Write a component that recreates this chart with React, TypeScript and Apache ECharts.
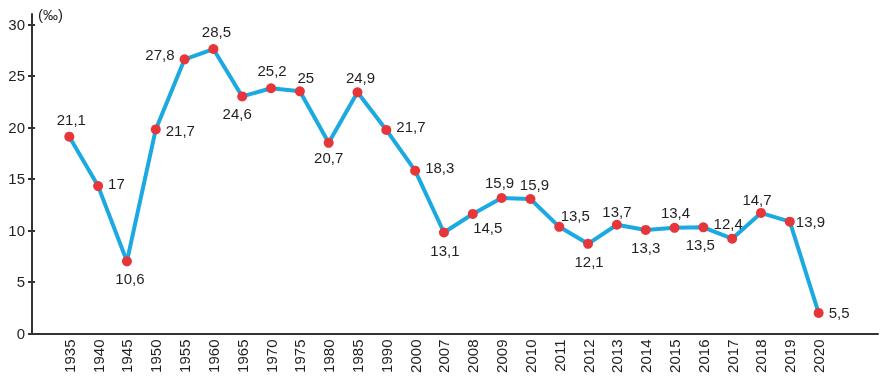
import React, { useEffect, useRef } from "react";
import * as echarts from "echarts";

const years = [
  "1935", "1940", "1945", "1950", "1955", "1960", "1965", "1970", "1975", "1980",
  "1985", "1990", "2000", "2007", "2008", "2009", "2010", "2011", "2012", "2013",
  "2014", "2015", "2016", "2017", "2018", "2019", "2020",
];

// plotted positions (‰)
const plotted = [
  19.1, 14.3, 7.0, 19.8, 26.6, 27.6, 23.0, 23.8, 23.5, 18.5,
  23.4, 19.75, 15.8, 9.8, 11.6, 13.15, 13.05, 10.35, 8.7, 10.55,
  10.05, 10.25, 10.3, 9.2, 11.7, 10.85, 2.0,
];

// printed value labels
const valueLabels = [
  "21,1", "17", "10,6", "21,7", "27,8", "28,5", "24,6", "25,2", "25", "20,7",
  "24,9", "21,7", "18,3", "13,1", "14,5", "15,9", "15,9", "13,5", "12,1", "13,7",
  "13,3", "13,4", "13,5", "12,4", "14,7", "13,9", "5,5",
];

const yTicks = [0, 5, 10, 15, 20, 25, 30];

// label placement (layout only)
const placement: [string, number, number][] = [
  ["top", 2, 0], ["right", 0, -3], ["bottom", 3, 0], ["right", 0, 1], ["left", 0, -5],
  ["top", 3, 0], ["bottom", -5, 0], ["top", 1, 0], ["top", 6, 4], ["bottom", 0, -3],
  ["top", 3, 3], ["right", 0, -3], ["right", 0, -3], ["bottom", 1, 1], ["bottom", 15, -4],
  ["top", -2, 2], ["top", 4, 3], ["top", 16, 6], ["bottom", 1, 0], ["top", 0, 4],
  ["bottom", 0, 0], ["top", 1, 2], ["bottom", -3, 0], ["top", -4, 2], ["top", -4, 4],
  ["right", -4, 0], ["right", 0, 0],
];

const FONT = "'Liberation Sans', Arial, Helvetica, sans-serif";
const TEXT = "#231f20";

export default function App() {
  const ref = useRef<HTMLDivElement>(null);

  useEffect(() => {
    if (!ref.current) return;
    const chart = echarts.init(ref.current, undefined, { renderer: "svg" });
    const data = plotted.map((v, i) => ({
      value: [i, v],
      label: {
        position: placement[i][0],
        offset: [placement[i][1], placement[i][2]],
      },
    }));
    chart.setOption({
      animation: false,
      textStyle: { fontFamily: FONT },
      grid: { left: 32, right: 5, top: 14, bottom: 52.5, containLabel: false },
      xAxis: {
        type: "value",
        min: -1.294,
        max: 28.06,
        splitLine: { show: false },
        axisTick: { show: false },
        axisLine: { onZero: false, lineStyle: { color: "#333333", width: 2 } },
        axisLabel: {
          customValues: years.map((_, i) => i),
          formatter: (v: number) => years[Math.round(v)] ?? "",
          rotate: 90,
          margin: 6,
          padding: [10, 0, 0, 0],
          color: TEXT,
          fontSize: 15,
          fontFamily: FONT,
        },
      },
      yAxis: [
        {
          type: "value",
          min: 0,
          max: 31,
          name: "(‰)",
          nameLocation: "end",
          nameGap: 0,
          nameTextStyle: {
            color: TEXT,
            fontSize: 15,
            fontFamily: FONT,
            align: "left",
            verticalAlign: "middle",
            padding: [0, 0, 0, 6],
          },
          splitLine: { show: false },
          axisLine: { onZero: false, lineStyle: { color: "#333333", width: 2 } },
          axisTick: {
            customValues: yTicks,
            length: 4,
            lineStyle: { color: "#333333", width: 2 },
          },
          axisLabel: {
            customValues: yTicks,
            margin: 7,
            color: TEXT,
            fontSize: 15,
            fontFamily: FONT,
          },
        },
        {
          type: "value",
          min: 0,
          max: 31,
          position: "left",
          splitLine: { show: false },
          axisLine: { show: false, onZero: false },
          axisLabel: { show: false },
          axisTick: {
            customValues: yTicks,
            inside: true,
            length: 3,
            lineStyle: { color: "#333333", width: 2 },
          },
        },
      ],
      series: [
        {
          type: "line",
          data,
          symbol: "circle",
          symbolSize: 10,
          lineStyle: { color: "#1ba9e1", width: 4 },
          itemStyle: { color: "#e6363a" },
          label: {
            show: true,
            distance: 5,
            color: TEXT,
            fontSize: 15,
            fontFamily: FONT,
            formatter: (p: any) => valueLabels[p.dataIndex],
          },
          z: 3,
        },
      ],
    });
    return () => chart.dispose();
  }, []);

  return (
    <div
      ref={ref}
      style={{ position: "fixed", left: 0, top: 0, width: 883, height: 386 }}
    />
  );
}
